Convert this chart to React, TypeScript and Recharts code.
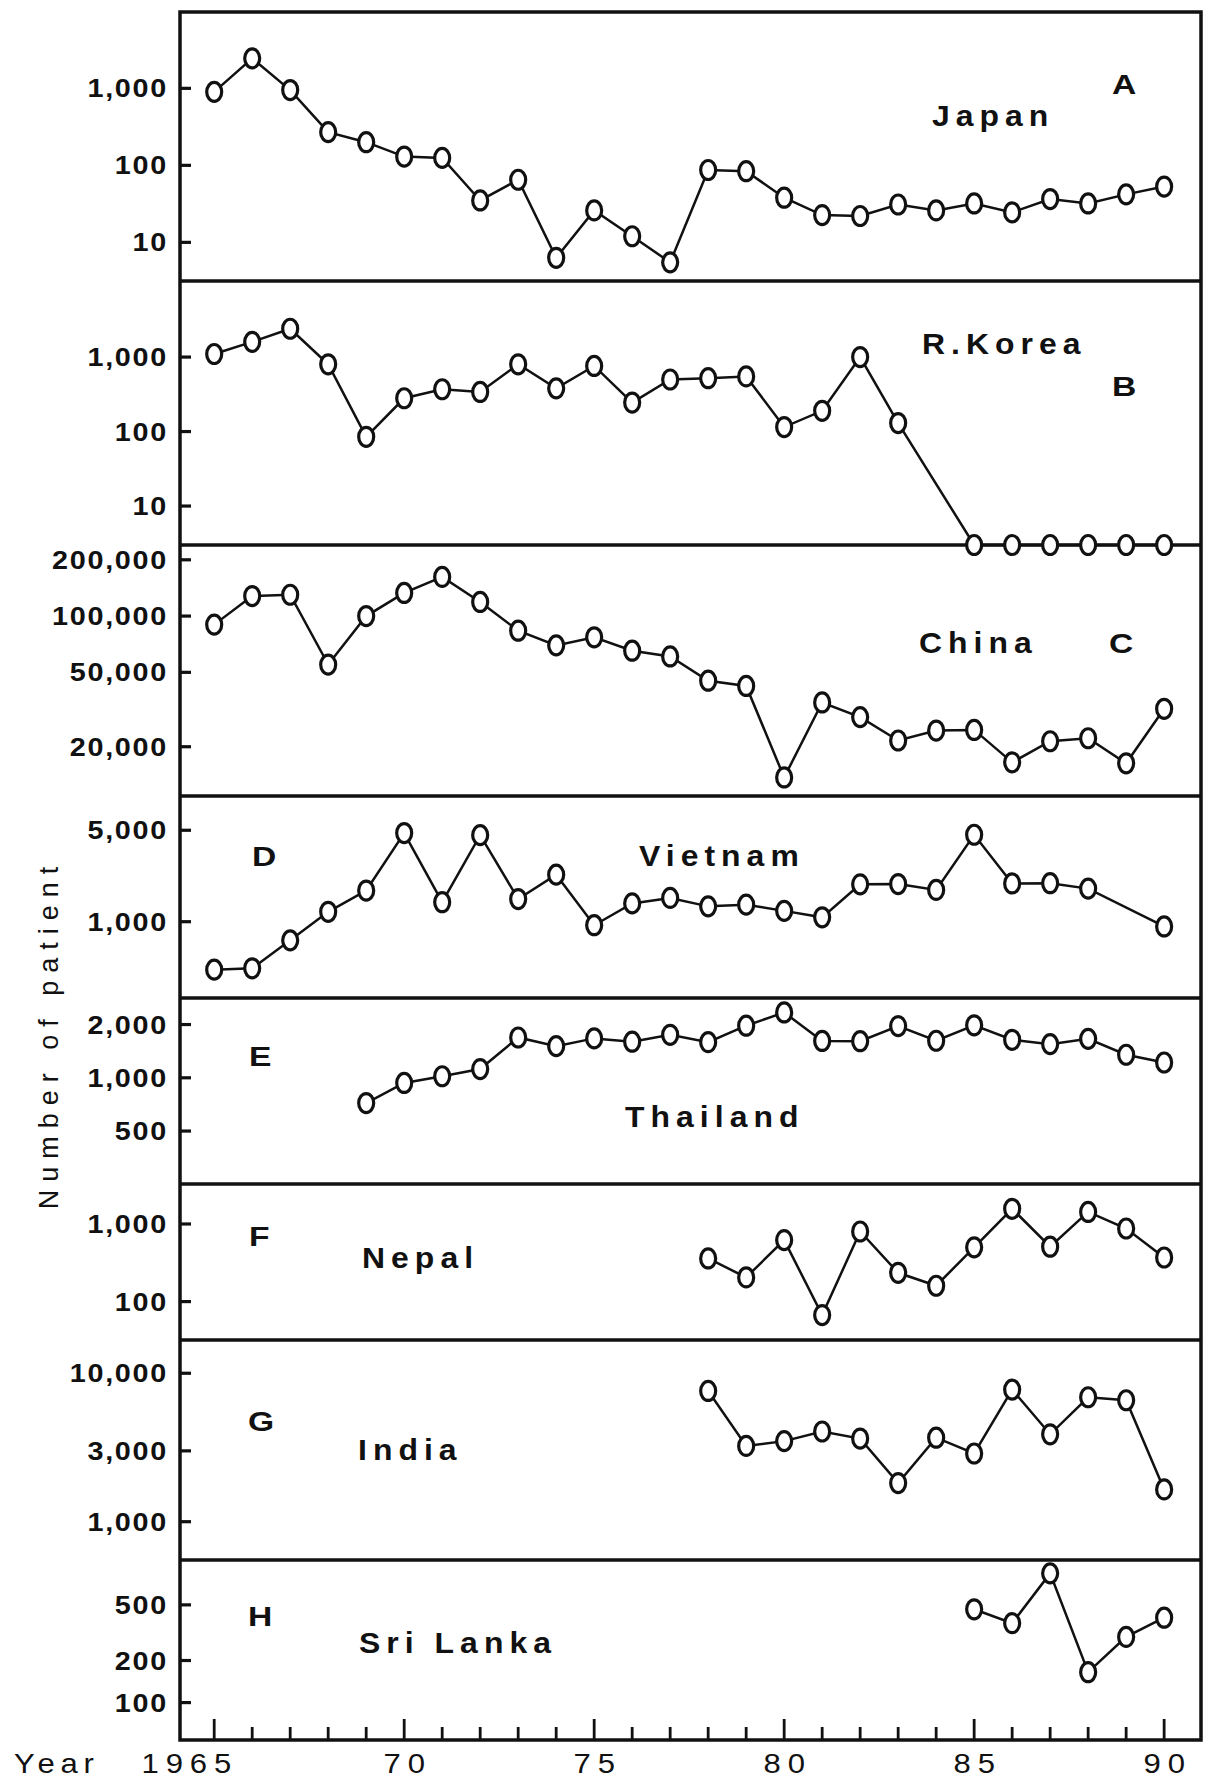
import React from 'react';
import { LineChart, Line, XAxis, YAxis } from 'recharts';

// ---------- data ----------
const years = [1965, 1966, 1967, 1968, 1969, 1970, 1971, 1972, 1973, 1974, 1975, 1976, 1977,
  1978, 1979, 1980, 1981, 1982, 1983, 1984, 1985, 1986, 1987, 1988, 1989, 1990];

const japan = [900, 2450, 950, 270, 200, 130, 125, 35, 65, 6.3, 26, 12, 5.5, 87, 84, 38, 22.6, 22, 31, 26, 32, 24.5, 36.5, 32, 42, 53];
const korea = [1100, 1600, 2400, 800, 85, 280, 370, 340, 800, 380, 760, 245, 500, 520, 550, 115, 190, 1000, 130, null, 3, 3, 3, 3, 3, 3];
const china = [90000, 128000, 130000, 55000, 100000, 133000, 162000, 119000, 83500, 69700, 77000, 65300, 60800, 45100, 42300, 13700, 34500, 28800, 21600, 24400, 24600, 16500, 21400, 22200, 16300, 31900];
const vietnam = [430, 440, 720, 1190, 1730, 4760, 1410, 4590, 1490, 2290, 940, 1380, 1520, 1310, 1350, 1210, 1080, 1930, 1940, 1750, 4620, 1960, 1970, 1790, null, 920];
const thailandFrom = 1969;
const thailand = [720, 935, 1020, 1120, 1690, 1510, 1670, 1600, 1750, 1590, 1970, 2340, 1615, 1610, 1960, 1620, 1980, 1640, 1550, 1660, 1350, 1220];
const nepalFrom = 1978;
const nepal = [360, 205, 620, 67, 800, 235, 160, 500, 1570, 510, 1430, 875, 370];
const indiaFrom = 1978;
const india = [7600, 3240, 3490, 4050, 3630, 1820, 3680, 2880, 7760, 3880, 6890, 6580, 1650];
const sriLankaFrom = 1985;
const sriLanka = [465, 370, 840, 165, 295, 405];

// tick values
const japanTicks = [10, 100, 1000];
const koreaTicks = [10, 100, 1000];
const chinaTicks = [20000, 50000, 100000, 200000];
const vietnamTicks = [1000, 5000];
const thailandTicks = [500, 1000, 2000];
const nepalTicks = [100, 1000];
const indiaTicks = [1000, 3000, 10000];
const sriLankaTicks = [100, 200, 500];
const majorYears = [1965, 1970, 1975, 1980, 1985, 1990];
const majorYearLabels = ['1965', '70', '75', '80', '85', '90'];

const pick = (arr: (number | null)[], from: number, year: number) => {
  const i = year - from;
  return i >= 0 && i < arr.length ? arr[i] : null;
};

const rows = years.map((year, i) => ({
  year,
  japan: japan[i],
  korea: korea[i],
  china: china[i],
  vietnam: vietnam[i],
  thailand: pick(thailand, thailandFrom, year),
  nepal: pick(nepal, nepalFrom, year),
  india: pick(india, indiaFrom, year),
  sriLanka: pick(sriLanka, sriLankaFrom, year),
}));

// ---------- layout ----------
const W = 1211;
const H = 1784;
const PLOT_LEFT = 180;
const PLOT_RIGHT = 1201;
const PAD = 18;
const AXIS_H = 50;
const X_DOMAIN: [number, number] = [1964.1, 1990.97];
const INK = '#111';
const FONT = '"Liberation Sans", Arial, Helvetica, sans-serif';

const panels = [
  { key: 'japan', top: 12, bottom: 281, domain: [3.15, 9800], ticks: japanTicks },
  { key: 'korea', top: 281, bottom: 545, domain: [3, 10500], ticks: koreaTicks },
  { key: 'china', top: 545, bottom: 796, domain: [10900, 240000], ticks: chinaTicks },
  { key: 'vietnam', top: 796, bottom: 998, domain: [261, 9140], ticks: vietnamTicks },
  { key: 'thailand', top: 998, bottom: 1184, domain: [251, 2825], ticks: thailandTicks },
  { key: 'nepal', top: 1184, bottom: 1340, domain: [32, 3275], ticks: nepalTicks },
  { key: 'india', top: 1340, bottom: 1560, domain: [552, 16750], ticks: indiaTicks },
  { key: 'sriLanka', top: 1560, bottom: 1740, domain: [54, 1047], ticks: sriLankaTicks },
];

const letterLabels = [
  { t: 'A', x: 1112, y: 94 }, { t: 'B', x: 1112, y: 396 }, { t: 'C', x: 1109, y: 653 },
  { t: 'D', x: 252, y: 866 }, { t: 'E', x: 249, y: 1066 }, { t: 'F', x: 249, y: 1246 },
  { t: 'G', x: 248, y: 1431 }, { t: 'H', x: 248, y: 1626 },
];
const countryLabels = [
  { t: 'Japan', x: 932, y: 126 }, { t: 'R.Korea', x: 922, y: 354 }, { t: 'China', x: 919, y: 653 },
  { t: 'Vietnam', x: 639, y: 866 }, { t: 'Thailand', x: 625, y: 1127 }, { t: 'Nepal', x: 362, y: 1268 },
  { t: 'India', x: 358, y: 1460 }, { t: 'Sri Lanka', x: 359, y: 1653 },
];

const fmt = (v: number) => v.toLocaleString('en-US');

// wide-set text, as in the scanned figure
function WideText(props: {
  x: number; y: number; sx: number; size: number; weight?: number; ls?: number;
  anchor?: 'start' | 'middle' | 'end'; children: React.ReactNode;
}) {
  const { x, y, sx, size, weight = 400, ls = 0, anchor = 'start', children } = props;
  return (
    <text transform={`translate(${x},${y}) scale(${sx},1)`} x={0} y={0} textAnchor={anchor}
      fontSize={size} fontWeight={weight} letterSpacing={ls} fill={INK} fontFamily={FONT}>
      {children}
    </text>
  );
}

function YTick(props: any) {
  const { x, y, payload } = props;
  return (
    <g>
      <line x1={x} x2={x + 11} y1={y} y2={y} stroke={INK} strokeWidth={3.2} />
      <WideText x={x - 12} y={y + 9} sx={1.15} size={25} weight={700} ls={1.5} anchor="end">
        {fmt(payload.value)}
      </WideText>
    </g>
  );
}

function XTick(props: any) {
  const { x, y, payload } = props;
  const mi = majorYears.indexOf(payload.value);
  const major = mi >= 0;
  return (
    <g>
      <line x1={x} x2={x} y1={y} y2={y - (major ? 21 : 13)} stroke={INK} strokeWidth={2.8} />
      {major && (
        <WideText x={mi === 0 ? x + 24 : x + 3.5} y={y + 33} sx={1.15} size={27} ls={6}
          anchor={mi === 0 ? 'end' : 'middle'}>{majorYearLabels[mi]}</WideText>
      )}
    </g>
  );
}

const renderDot = (props: any) => {
  const { cx, cy, index, value } = props;
  if (cx == null || cy == null || value == null || Number.isNaN(cy)) return <g key={`e${index}`} />;
  return <ellipse key={`d${index}`} cx={cx} cy={cy} rx={7.5} ry={9.5} fill="#fff" stroke={INK} strokeWidth={3.2} />;
};

export default function App() {
  return (
    <div style={{ position: 'absolute', left: 0, top: 0, width: W, height: H, background: '#fff', fontFamily: FONT }}>
      <svg width={W} height={H} style={{ position: 'absolute', left: 0, top: 0 }}>
        <rect x={PLOT_LEFT} y={panels[0].top} width={PLOT_RIGHT - PLOT_LEFT}
          height={panels[panels.length - 1].bottom - panels[0].top} fill="none" stroke={INK} strokeWidth={3.5} />
        {panels.slice(1).map((p) => (
          <line key={p.key} x1={PLOT_LEFT} x2={PLOT_RIGHT} y1={p.top} y2={p.top} stroke={INK} strokeWidth={3.5} />
        ))}
      </svg>
      {panels.map((p, i) => {
        const last = i === panels.length - 1;
        const plotH = p.bottom - p.top;
        const h = PAD + plotH + (last ? AXIS_H : PAD);
        return (
          <div key={p.key} style={{ position: 'absolute', left: 0, top: p.top - PAD }}>
            <LineChart width={W} height={h} data={rows}
              margin={{ top: PAD, right: W - PLOT_RIGHT, bottom: last ? 0 : PAD, left: 0 }}>
              <XAxis dataKey="year" type="number" domain={X_DOMAIN} ticks={years} interval={0}
                hide={!last} axisLine={false} tickLine={false} tickSize={0} tickMargin={0}
                height={AXIS_H} tick={(tp: any) => <XTick {...tp} />} />
              <YAxis type="number" scale="log" domain={p.domain as [number, number]} ticks={p.ticks}
                interval={0} width={PLOT_LEFT} axisLine={false} tickLine={false} tickSize={0}
                tickMargin={0} tick={(tp: any) => <YTick {...tp} />} />
              <Line type="linear" dataKey={p.key} stroke={INK} strokeWidth={2.5} dot={renderDot}
                activeDot={false} isAnimationActive={false} connectNulls />
            </LineChart>
          </div>
        );
      })}
      <svg width={W} height={H} style={{ position: 'absolute', left: 0, top: 0, pointerEvents: 'none' }}>
        {letterLabels.map((l) => (
          <WideText key={l.t} x={l.x} y={l.y} sx={1.2} size={28} weight={700}>{l.t}</WideText>
        ))}
        {countryLabels.map((l) => (
          <WideText key={l.t} x={l.x} y={l.y} sx={1.1} size={29} weight={700} ls={5.5}>{l.t}</WideText>
        ))}
        <WideText x={14} y={1773} sx={1.15} size={27} ls={5}>Year</WideText>
        <text x={58} y={1034} transform="rotate(-90, 58, 1034)" textAnchor="middle" fontSize={27}
          letterSpacing={8} fill={INK} fontFamily={FONT}>Number of patient</text>
      </svg>
    </div>
  );
}
